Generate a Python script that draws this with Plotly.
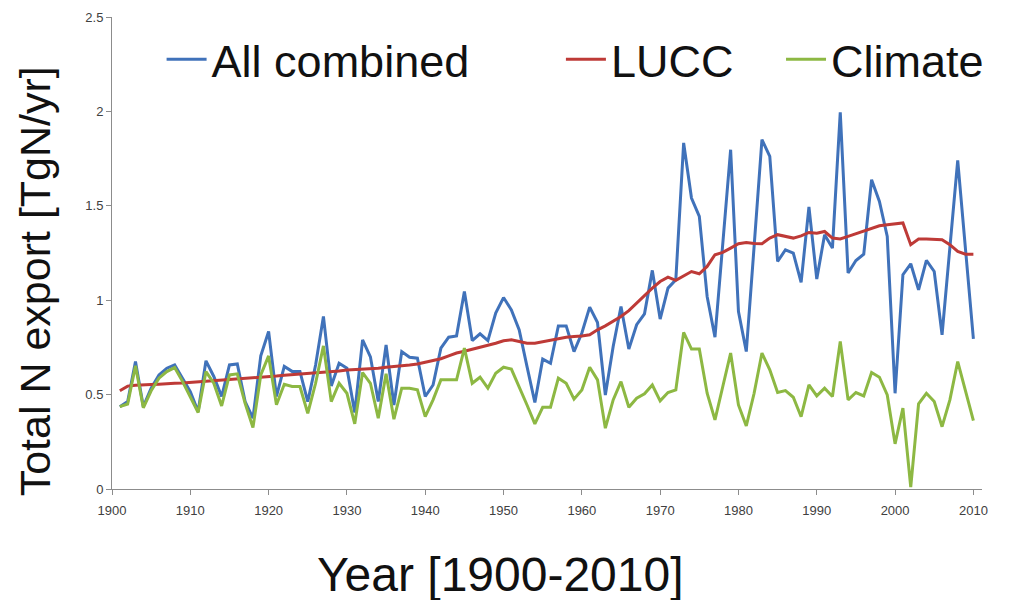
import plotly.graph_objects as go

years = list(range(1901, 2011))

all_combined = [
    0.436, 0.463, 0.675, 0.436, 0.534, 0.604, 0.640, 0.657, 0.587, 0.516,
    0.410, 0.679, 0.596, 0.490, 0.657, 0.662, 0.463, 0.375, 0.705, 0.834,
    0.490, 0.649, 0.623, 0.623, 0.463, 0.657, 0.914, 0.546, 0.666, 0.640,
    0.405, 0.790, 0.700, 0.463, 0.763, 0.445, 0.728, 0.698, 0.693, 0.490,
    0.551, 0.746, 0.804, 0.811, 1.046, 0.786, 0.822, 0.786, 0.932, 1.014,
    0.949, 0.843, 0.648, 0.458, 0.688, 0.666, 0.864, 0.864, 0.728, 0.826,
    0.963, 0.882, 0.498, 0.755, 0.967, 0.741, 0.870, 0.928, 1.158, 0.900,
    1.064, 1.108, 1.833, 1.541, 1.444, 1.020, 0.804, 1.294, 1.797, 0.940,
    0.728, 1.285, 1.850, 1.762, 1.205, 1.267, 1.250, 1.094, 1.494, 1.112,
    1.347, 1.276, 1.995, 1.144, 1.210, 1.244, 1.638, 1.523, 1.338, 0.507,
    1.135, 1.193, 1.055, 1.211, 1.152, 0.817, 1.285, 1.741, 1.267, 0.795,
]

lucc = [
    0.520, 0.545, 0.550, 0.550, 0.553, 0.555, 0.556, 0.560, 0.562, 0.565,
    0.567, 0.570, 0.572, 0.575, 0.578, 0.580, 0.583, 0.587, 0.590, 0.595,
    0.598, 0.602, 0.605, 0.608, 0.610, 0.613, 0.616, 0.620, 0.625, 0.630,
    0.632, 0.635, 0.638, 0.640, 0.645, 0.648, 0.652, 0.657, 0.662, 0.670,
    0.678, 0.690, 0.705, 0.720, 0.730, 0.740, 0.750, 0.760, 0.772, 0.785,
    0.790, 0.781, 0.772, 0.772, 0.781, 0.790, 0.799, 0.804, 0.808, 0.810,
    0.817, 0.843, 0.864, 0.887, 0.914, 0.945, 0.985, 1.020, 1.064, 1.099,
    1.122, 1.105, 1.129, 1.152, 1.140, 1.179, 1.241, 1.253, 1.276, 1.299,
    1.306, 1.300, 1.299, 1.329, 1.347, 1.338, 1.329, 1.341, 1.359, 1.355,
    1.364, 1.329, 1.324, 1.338, 1.352, 1.370, 1.382, 1.394, 1.400, 1.405,
    1.409, 1.294, 1.324, 1.324, 1.324, 1.320, 1.294, 1.258, 1.244, 1.244,
]

climate = [
    0.436, 0.450, 0.652, 0.430, 0.520, 0.587, 0.622, 0.643, 0.570, 0.490,
    0.405, 0.622, 0.560, 0.440, 0.604, 0.610, 0.454, 0.325, 0.604, 0.705,
    0.446, 0.555, 0.543, 0.543, 0.401, 0.560, 0.758, 0.463, 0.560, 0.507,
    0.345, 0.617, 0.560, 0.375, 0.610, 0.370, 0.534, 0.534, 0.525, 0.383,
    0.472, 0.578, 0.580, 0.578, 0.746, 0.560, 0.592, 0.534, 0.613, 0.645,
    0.635, 0.543, 0.445, 0.345, 0.433, 0.433, 0.587, 0.560, 0.476, 0.525,
    0.645, 0.578, 0.322, 0.472, 0.569, 0.433, 0.481, 0.504, 0.551, 0.467,
    0.511, 0.525, 0.829, 0.741, 0.741, 0.507, 0.366, 0.543, 0.720, 0.445,
    0.334, 0.507, 0.720, 0.631, 0.511, 0.521, 0.486, 0.383, 0.551, 0.493,
    0.534, 0.490, 0.781, 0.472, 0.511, 0.493, 0.617, 0.592, 0.498, 0.239,
    0.428, 0.010, 0.451, 0.507, 0.463, 0.330, 0.472, 0.675, 0.516, 0.362,
]

x_ticks = list(range(1900, 2011, 10))
y_ticks = [0, 0.5, 1, 1.5, 2, 2.5]
y_tick_text = ["0", "0.5", "1", "1.5", "2", "2.5"]

fig = go.Figure()
fig.add_trace(go.Scatter(x=years, y=all_combined, mode="lines", name="All combined",
                         line=dict(color="#4072BA", width=3), legend="legend",
                         showlegend=True))
fig.add_trace(go.Scatter(x=years, y=lucc, mode="lines", name="LUCC",
                         line=dict(color="#BE3A37", width=3), legend="legend2",
                         showlegend=True))
fig.add_trace(go.Scatter(x=years, y=climate, mode="lines", name="Climate",
                         line=dict(color="#8DB843", width=3), legend="legend3",
                         showlegend=True))

leg_font = dict(family="Liberation Sans, Arial, sans-serif", size=45, color="#111111")
common_leg = dict(orientation="h", yanchor="middle", y=0.91, xanchor="left",
                  font=leg_font, bgcolor="rgba(0,0,0,0)", itemwidth=40,
                  visible=True)

fig.update_layout(
    width=1020, height=592,
    margin=dict(l=104, r=46, t=9, b=111),
    paper_bgcolor="white", plot_bgcolor="white",
    showlegend=True,
    font=dict(family="Liberation Sans, Arial, sans-serif", color="#333333"),
    legend=dict(common_leg, x=0.057),
    legend2=dict(common_leg, x=0.516),
    legend3=dict(common_leg, x=0.769),
    xaxis=dict(
        range=[1900, 2011.1], tickvals=x_ticks, ticks="outside", ticklen=5,
        tickcolor="#8C8C8C", showline=True, linecolor="#8C8C8C", linewidth=1,
        showgrid=False, zeroline=False, automargin=False,
        ticklabelstandoff=4,
        tickfont=dict(size=13, color="#404040"),
    ),
    yaxis=dict(
        range=[0, 2.5], tickvals=y_ticks, ticktext=y_tick_text, ticks="outside",
        ticklen=5, tickcolor="#8C8C8C", showline=True, linecolor="#8C8C8C",
        linewidth=1, showgrid=False, zeroline=False, automargin=False,
        tickfont=dict(size=13, color="#404040"),
    ),
    annotations=[
        dict(text="Year [1900-2010]", xref="paper", yref="paper",
             x=0.447, y=-0.182, xanchor="center", yanchor="middle",
             showarrow=False, font=dict(size=48, color="#111111")),
        dict(text="Total N export [TgN/yr]", xref="paper", yref="paper",
             x=-0.0885, y=0.44, xanchor="center", yanchor="middle",
             textangle=-90, showarrow=False,
             font=dict(size=43, color="#111111")),
    ],
)

fig.write_html("out.html")
